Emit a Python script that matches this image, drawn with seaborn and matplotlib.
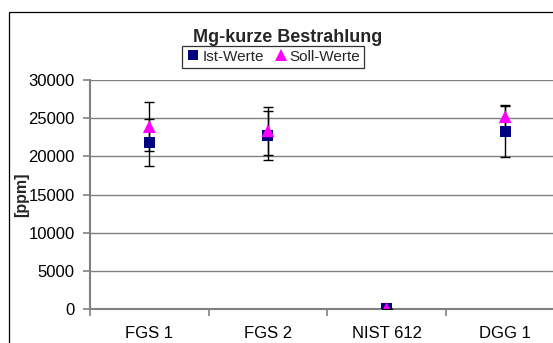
import matplotlib
matplotlib.use("Agg")
import matplotlib.pyplot as plt
from matplotlib.patches import Rectangle
import numpy as np
import pandas as pd
import seaborn as sns

# Mg concentrations after short irradiation [ppm]
samples = ["FGS 1", "FGS 2", "NIST 612", "DGG 1"]
ist_values = [21800, 22750, 85, 23300]
ist_errors = [3050, 3200, 10, 3370]
soll_values = [23900, 23350, 68, 25200]
soll_errors = [3230, 3150, 10, 1400]

series_names = ["Ist-Werte", "Soll-Werte"]
colors = {"Ist-Werte": "#000080", "Soll-Werte": "#FF00FF"}
markers = {"Ist-Werte": "s", "Soll-Werte": "^"}

df = pd.DataFrame({
    "Probe": samples * 2,
    "Wert": ist_values + soll_values,
    "Fehler": ist_errors + soll_errors,
    "Serie": [series_names[0]] * len(samples) + [series_names[1]] * len(samples),
})

sns.set_theme(style="white")
plt.rcParams["font.family"] = ["Liberation Sans", "DejaVu Sans"]

W, H = 553, 343
fig = plt.figure(figsize=(W / 100, H / 100), dpi=100)

# plot area in pixel geometry (right edge runs past the figure)
left_px, right_px, top_px, bottom_px = 90, 564.5, 80, 309.3
ax = fig.add_axes([left_px / W, 1 - bottom_px / H,
                   (right_px - left_px) / W, (bottom_px - top_px) / H])
ax.set_facecolor("white")

# error bars behind the markers
for name, vals, errs in [("Ist-Werte", ist_values, ist_errors),
                         ("Soll-Werte", soll_values, soll_errors)]:
    ax.errorbar(np.arange(len(samples)), vals, yerr=errs, fmt="none",
                ecolor="black", elinewidth=1.0, capsize=3.3, capthick=1.0,
                zorder=3)

sns.scatterplot(data=df, x="Probe", y="Wert", hue="Serie", style="Serie",
                palette=colors, markers=markers, size="Serie",
                sizes={"Ist-Werte": 62, "Soll-Werte": 85},
                edgecolor=None, linewidth=0, ax=ax, zorder=4, legend=True)

ax.set_xlim(-0.5, len(samples) - 0.5)
ax.set_ylim(0, 30000)
ax.set_yticks(np.arange(0, 30001, 5000))
ax.set_xticks(range(len(samples)))
ax.set_xticklabels(samples)
ax.set_xticks(np.arange(-0.5, len(samples), 1.0), minor=True)
ax.tick_params(axis="x", which="major", length=0, pad=12, labelsize=12,
               labelcolor="black")
ax.tick_params(axis="x", which="minor", length=5, width=1.2, color="#808080",
               direction="out", bottom=True)
ax.tick_params(axis="y", length=5, width=1.2, color="#808080", direction="out",
               left=True, pad=6, labelsize=12, labelcolor="black")

ax.grid(axis="y", color="#808080", linewidth=1.0)
ax.grid(axis="x", visible=False)
ax.set_axisbelow(True)
for side in ["top", "right"]:
    ax.spines[side].set_visible(False)
for side in ["left", "bottom"]:
    ax.spines[side].set_color("#808080")
    ax.spines[side].set_linewidth(1.5)

ax.set_xlabel("")
ax.set_ylabel("[ppm]", fontsize=11.5, fontweight="bold")
ax.yaxis.set_label_coords((29 - left_px) / (right_px - left_px), 0.5)

handles, labels = ax.get_legend_handles_labels()
ax.get_legend().remove()
keep = [(h, l) for h, l in zip(handles, labels) if l in series_names]
leg = fig.legend([h for h, _ in keep], [l for _, l in keep], ncol=2,
                 loc="upper center", bbox_to_anchor=((183 + 363) / 2 / W, 1 - 46 / H),
                 frameon=True, fancybox=False, fontsize=11, handletextpad=0.1,
                 columnspacing=0.6, borderpad=0.25, handlelength=1.0,
                 borderaxespad=0)
leg.get_frame().set_edgecolor("black")
leg.get_frame().set_linewidth(0.9)

fig.text(288 / W, 1 - 37 / H, "Mg-kurze Bestrahlung", ha="center", va="center",
         fontsize=13, fontweight="bold")

# outer chart frame
fig.patches.append(Rectangle((9.3 / W, -0.1), 1.2, 1 - 12 / H + 0.1,
                             transform=fig.transFigure, fill=False,
                             edgecolor="black", linewidth=0.9, zorder=0))

fig.savefig("out.png", dpi=100, facecolor="white")
